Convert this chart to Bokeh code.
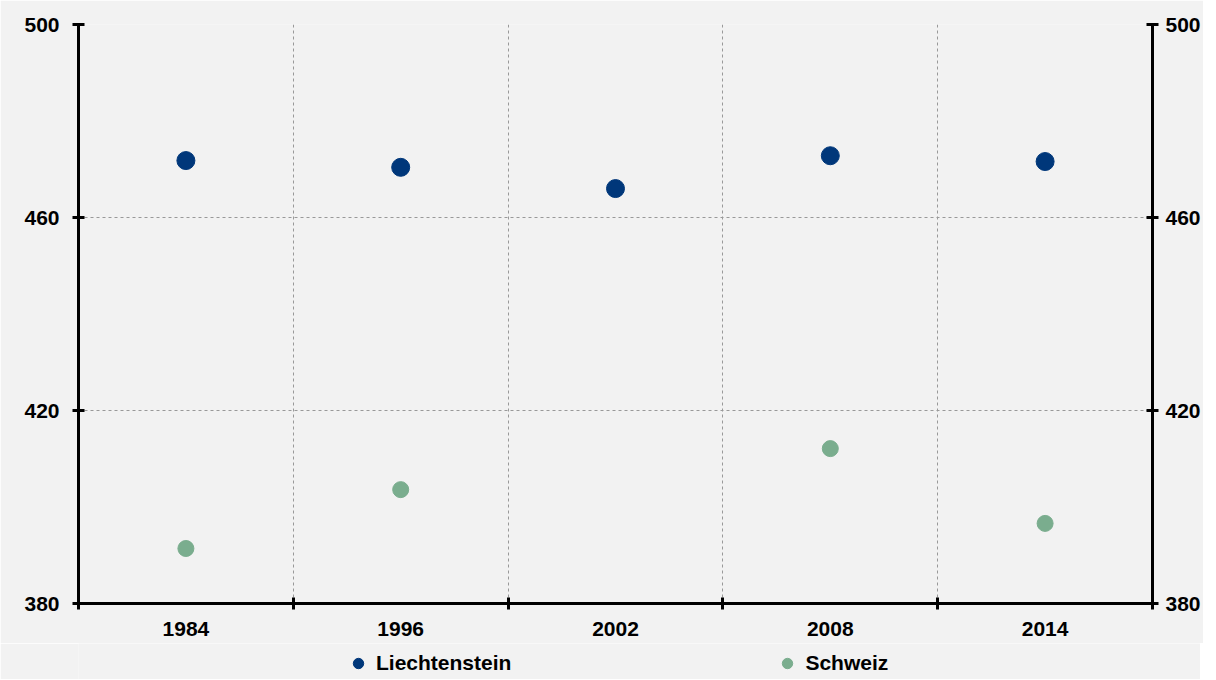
from bokeh.plotting import figure
from bokeh.layouts import column
from bokeh.models import FixedTicker, LinearAxis, Legend, LegendItem, ColumnDataSource, Range1d
from bokeh.embed import file_html
from bokeh.resources import INLINE

years = ["1984", "1996", "2002", "2008", "2014"]
liechtenstein = [471.8, 470.4, 466.0, 472.8, 471.6]
schweiz = [391.4, 403.6, float("nan"), 412.1, 396.6]
series_names = ["Liechtenstein", "Schweiz"]
y_ticks = [380, 420, 460, 500]

xpos = [i + 0.5 for i in range(len(years))]
boundaries = list(range(len(years) + 1))

src = ColumnDataSource(dict(x=xpos, li=liechtenstein, ch=schweiz))

BG = "#f2f2f2"
FONT = "Liberation Sans"
NAVY = "#00377a"
GREEN = "#7aad8e"
FS = "21px"

p = figure(frame_width=1074, frame_height=579, output_backend="svg", toolbar_location=None,
           x_range=Range1d(0, len(years)), y_range=Range1d(380, 500),
           background_fill_color=BG, border_fill_color=BG,
           min_border_left=78, min_border_right=48, min_border_top=24, min_border_bottom=40,
           x_axis_location=None, y_axis_location=None)
p.outline_line_color = None

r1 = p.scatter("x", "li", source=src, size=18, color=NAVY)
r2 = p.scatter("x", "ch", source=src, size=16, color=GREEN)

def style_axis(ax):
    ax.axis_line_width = 3
    ax.axis_line_color = "black"
    ax.major_label_text_font = FONT
    ax.major_label_text_font_style = "bold"
    ax.major_label_text_font_size = FS
    ax.major_label_text_color = "black"

for side, standoff in (("left", 13), ("right", 7)):
    ya = LinearAxis(ticker=FixedTicker(ticks=y_ticks))
    style_axis(ya)
    ya.major_tick_in = 6
    ya.major_tick_out = 6
    ya.major_tick_line_width = 3
    ya.minor_tick_line_color = None
    ya.major_label_standoff = standoff
    p.add_layout(ya, side)

xa = LinearAxis(ticker=FixedTicker(ticks=xpos, minor_ticks=boundaries))
style_axis(xa)
xa.major_label_overrides = {x: y for x, y in zip(xpos, years)}
xa.major_tick_line_color = None
xa.major_tick_in = 0
xa.major_tick_out = 0
xa.minor_tick_in = 6
xa.minor_tick_out = 6
xa.minor_tick_line_width = 3
xa.minor_tick_line_color = "black"
xa.major_label_standoff = 12
p.add_layout(xa, "below")

p.xgrid.ticker = FixedTicker(ticks=boundaries[1:-1])
p.ygrid.ticker = FixedTicker(ticks=y_ticks)
for g in (p.xgrid, p.ygrid):
    g.grid_line_color = "#999999"
    g.grid_line_dash = "3 3"
    g.grid_line_width = 1

# legend strip below the chart (its renderers share the data but lie outside its range)
lp = figure(frame_width=1200, frame_height=36, output_backend="svg", toolbar_location=None,
            x_range=Range1d(0, 1), y_range=Range1d(0, 1),
            background_fill_color=BG, border_fill_color=BG,
            min_border_left=0, min_border_right=0, min_border_top=0, min_border_bottom=0,
            x_axis_location=None, y_axis_location=None)
lp.outline_line_color = None
lp.xgrid.visible = False
lp.ygrid.visible = False
l1 = lp.scatter("x", "li", source=src, size=18, color=NAVY)
l2 = lp.scatter("x", "ch", source=src, size=16, color=GREEN)

legend = Legend(items=[LegendItem(label=series_names[0], renderers=[l1], index=0),
                       LegendItem(label=series_names[1], renderers=[l2], index=0)],
                orientation="horizontal", location=(345, 3),
                glyph_width=26, glyph_height=26, label_standoff=5, spacing=263,
                padding=0, margin=0,
                background_fill_alpha=0, border_line_color=None,
                label_text_font=FONT, label_text_font_style="bold",
                label_text_font_size=FS, label_text_color="black")
lp.add_layout(legend, "center")

layout = column(p, lp, spacing=0)
open("out.html", "w").write(file_html(layout, INLINE))
